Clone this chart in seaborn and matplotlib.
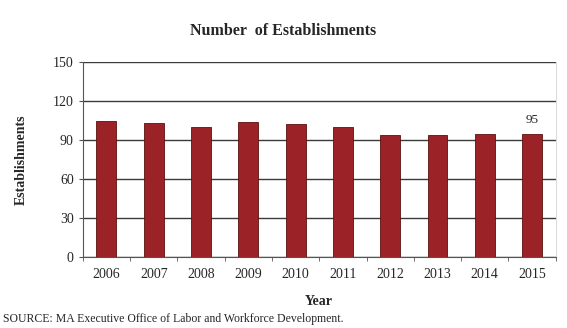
import pandas as pd
import matplotlib.pyplot as plt
import seaborn as sns
from matplotlib.ticker import FixedLocator

# data
years = ['2006', '2007', '2008', '2009', '2010', '2011', '2012', '2013', '2014', '2015']
establishments = [105, 103, 100, 104, 102, 100, 94, 94, 95, 95]

df = pd.DataFrame({'Year': years, 'Establishments': establishments})

sns.set_style('white')
plt.rcParams['font.family'] = ['Liberation Serif', 'DejaVu Serif']

fig = plt.figure(figsize=(5.67, 3.28), dpi=100)
ax = fig.add_axes([0.146, 0.216, 0.834, 0.595])

sns.barplot(data=df, x='Year', y='Establishments', color='#9b2226',
            width=0.42, edgecolor='#5a1010', linewidth=0.6, saturation=1, ax=ax, zorder=3)

ax.set_ylim(0, 150)
ax.set_xlim(-0.5, len(years) - 0.5)
ax.set_yticks([0, 30, 60, 90, 120, 150])
ax.yaxis.grid(True, color='#3a3a3a', linewidth=1.0, zorder=0)
ax.set_axisbelow(True)
ax.spines['top'].set_visible(False)
ax.spines['right'].set_color('#dddddd')
ax.spines['left'].set_color('#555555')
ax.spines['bottom'].set_color('#555555')
ax.tick_params(axis='y', labelsize=10, length=3, color='#555555', left=True)
# category ticks sit between the bars
ax.tick_params(axis='x', which='major', labelsize=10, length=0, pad=8)
ax.xaxis.set_minor_locator(FixedLocator([i + 0.5 for i in range(-1, len(years))]))
ax.tick_params(axis='x', which='minor', length=3, color='#555555', bottom=True)

ax.set_xlabel('Year', fontsize=10, fontweight='bold', labelpad=10)
ax.set_ylabel('Establishments', fontsize=10, fontweight='bold', labelpad=18)

# label last bar
ax.text(len(years) - 1, establishments[-1] + 6, str(establishments[-1]),
        ha='center', va='bottom', fontsize=9.5)

fig.text(0.5, 0.905, 'Number  of Establishments', ha='center', va='center',
         fontsize=11.5, fontweight='bold')
fig.text(0.005, 0.028, 'SOURCE: MA Executive Office of Labor and Workforce Development.',
         ha='left', va='center', fontsize=8.5)

fig.savefig('out.png', dpi=100)
